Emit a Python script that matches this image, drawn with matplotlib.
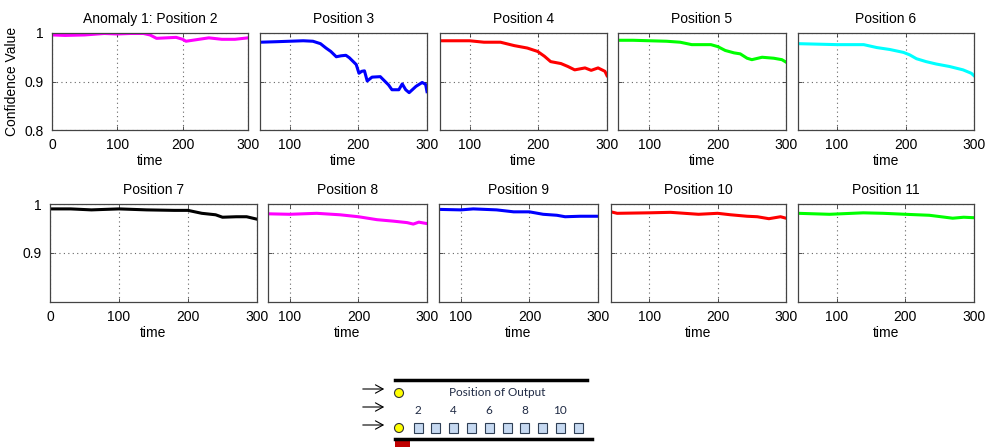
import matplotlib.pyplot as plt
from matplotlib.patches import Rectangle, Circle

plt.rcParams['font.family'] = ['Liberation Sans', 'DejaVu Sans']

# confidence value (time, value)
t_pos2 = [0, 20, 50, 70, 80, 100, 120, 140, 150, 160, 175, 190, 200, 205, 220, 240, 260, 280, 300]
v_pos2 = [0.996, 0.995, 0.996, 0.998, 0.999, 0.998, 0.999, 0.999, 0.996, 0.989, 0.990, 0.991,
          0.987, 0.983, 0.986, 0.990, 0.987, 0.987, 0.990]

t_pos3 = [57, 80, 100, 120, 134, 145, 153, 160, 168, 175, 182, 187, 197, 201, 205, 209, 213,
          220, 232, 244, 249, 259, 264, 269, 274, 284, 293, 298, 300]
v_pos3 = [0.981, 0.982, 0.983, 0.984, 0.983, 0.978, 0.969, 0.962, 0.951, 0.953, 0.954, 0.949,
          0.935, 0.917, 0.921, 0.922, 0.901, 0.909, 0.910, 0.893, 0.883, 0.883, 0.895, 0.883,
          0.877, 0.890, 0.898, 0.894, 0.879]

t_pos4 = [57, 100, 121, 145, 165, 184, 199, 209, 218, 233, 243, 253, 268, 277, 287, 297, 300]
v_pos4 = [0.984, 0.984, 0.981, 0.981, 0.974, 0.969, 0.962, 0.952, 0.941, 0.937, 0.931, 0.924,
          0.928, 0.923, 0.928, 0.921, 0.912]

t_pos5 = [54, 76, 100, 125, 145, 162, 190, 200, 211, 224, 233, 243, 250, 265, 282, 294, 300]
v_pos5 = [0.985, 0.985, 0.984, 0.983, 0.981, 0.976, 0.976, 0.972, 0.964, 0.959, 0.957, 0.948,
          0.945, 0.950, 0.948, 0.945, 0.940]

t_pos6 = [43, 100, 139, 158, 177, 197, 206, 216, 230, 245, 264, 284, 296, 300]
v_pos6 = [0.978, 0.976, 0.976, 0.970, 0.966, 0.960, 0.955, 0.947, 0.941, 0.936, 0.931, 0.924,
          0.917, 0.912]

t_pos7 = [0, 30, 60, 100, 140, 180, 200, 220, 240, 250, 270, 285, 300]
v_pos7 = [0.990, 0.990, 0.988, 0.990, 0.988, 0.987, 0.987, 0.981, 0.978, 0.973, 0.974, 0.974, 0.969]

t_pos8 = [68, 100, 139, 173, 200, 227, 251, 271, 280, 288, 300]
v_pos8 = [0.980, 0.979, 0.981, 0.978, 0.974, 0.968, 0.965, 0.962, 0.959, 0.963, 0.960]

t_pos9 = [68, 100, 118, 152, 177, 200, 220, 240, 252, 274, 300]
v_pos9 = [0.989, 0.988, 0.990, 0.988, 0.984, 0.984, 0.979, 0.977, 0.974, 0.975, 0.975]

t_pos10 = [44, 53, 100, 131, 172, 200, 219, 243, 258, 275, 292, 300]
v_pos10 = [0.984, 0.981, 0.982, 0.983, 0.979, 0.981, 0.978, 0.975, 0.974, 0.970, 0.974, 0.971]

t_pos11 = [44, 90, 139, 168, 200, 235, 269, 285, 300]
v_pos11 = [0.981, 0.979, 0.982, 0.981, 0.979, 0.977, 0.971, 0.973, 0.972]

titles = ['Anomaly 1: Position 2', 'Position 3', 'Position 4', 'Position 5', 'Position 6',
          'Position 7', 'Position 8', 'Position 9', 'Position 10', 'Position 11']
colors = ['#ff00ff', '#0000ff', '#ff0000', '#00ff00', '#00ffff',
          'black', '#ff00ff', '#0000ff', '#ff0000', '#00ff00']
times = [t_pos2, t_pos3, t_pos4, t_pos5, t_pos6, t_pos7, t_pos8, t_pos9, t_pos10, t_pos11]
values = [v_pos2, v_pos3, v_pos4, v_pos5, v_pos6, v_pos7, v_pos8, v_pos9, v_pos10, v_pos11]

W, H = 991, 447
# axes boxes in pixels: left, right, top, bottom
boxes = [(52, 248, 33, 130), (260, 427, 33, 130), (440, 607, 33, 130), (618, 786, 33, 130),
         (798, 974, 33, 130),
         (50, 257, 204, 302), (268, 427, 204, 302), (439, 598, 204, 302), (611, 786, 204, 302),
         (798, 974, 204, 302)]

fig = plt.figure(figsize=(W / 100, H / 100), dpi=100)

for i in range(10):
    l, r, t, b = boxes[i]
    ax = fig.add_axes([l / W, 1 - b / H, (r - l) / W, (b - t) / H])
    ax.plot(times[i], values[i], color=colors[i], lw=2.2)
    ax.set_xlim(times[i][0], 300)
    ax.set_ylim(0.8, 1.0)
    ax.set_xticks([0, 100, 200, 300] if times[i][0] == 0 else [100, 200, 300])
    if i < 5:
        ax.set_yticks([0.8, 0.9, 1.0])
        ax.set_yticklabels(['0.8', '0.9', '1'])
    else:
        ax.set_yticks([0.9, 1.0])
        ax.set_yticklabels(['0.9', '1'])
    if i % 5 != 0:
        ax.tick_params(labelleft=False)
    ax.tick_params(direction='in', top=True, right=True, length=3, width=0.6,
                   labelsize=10, colors='#333333', labelcolor='black', pad=6)
    ax.grid(True, ls=(0, (1, 3)), color='#666666', lw=0.8)
    for s in ax.spines.values():
        s.set_color('#444444')
        s.set_linewidth(0.9)
    ax.set_title(titles[i], fontsize=10, pad=7)
    ax.set_xlabel('time', fontsize=10, labelpad=1)
    if i == 0:
        ax.set_ylabel('Confidence Value', fontsize=10, labelpad=4)

# schematic of the output positions
n_outputs = 10
labels_out = [2, 4, 6, 8, 10]
ax_d = fig.add_axes([0, 0, 1, 1])
ax_d.set_xlim(0, W)
ax_d.set_ylim(H, 0)
ax_d.axis('off')
ax_d.plot([395, 587], [380, 380], color='black', lw=2.5)
ax_d.plot([395, 592], [439, 439], color='black', lw=2.5)
ax_d.add_patch(Rectangle((395, 441), 15, 8, facecolor='#c00000', edgecolor='none'))
for yc in [393, 428]:
    ax_d.add_patch(Circle((399, yc), 4.5, facecolor='#ffff00', edgecolor='#333333', lw=0.8))
for ya in [389, 407, 425]:
    ax_d.annotate('', xy=(387, ya), xytext=(360, ya),
                  arrowprops=dict(arrowstyle='->,head_length=0.55,head_width=0.3',
                                  lw=0.8, color='black'))
x0, dx = 418, 17.8
for k in range(n_outputs):
    ax_d.add_patch(Rectangle((x0 + k * dx - 4.5, 423), 9, 10, facecolor='#c6d9f1',
                             edgecolor='#2f3f55', lw=0.8))
for n in labels_out:
    ax_d.text(x0 + (n - 2) * dx, 410, str(n), ha='center', va='center', fontsize=8.5,
              color='#1f2a44', family=['Lato', 'DejaVu Sans'])
ax_d.text(497, 393, 'Position of Output', ha='center', va='center', fontsize=8.5,
          color='#1f2a44', family=['Lato', 'DejaVu Sans'])

fig.savefig('out.png', dpi=100)
